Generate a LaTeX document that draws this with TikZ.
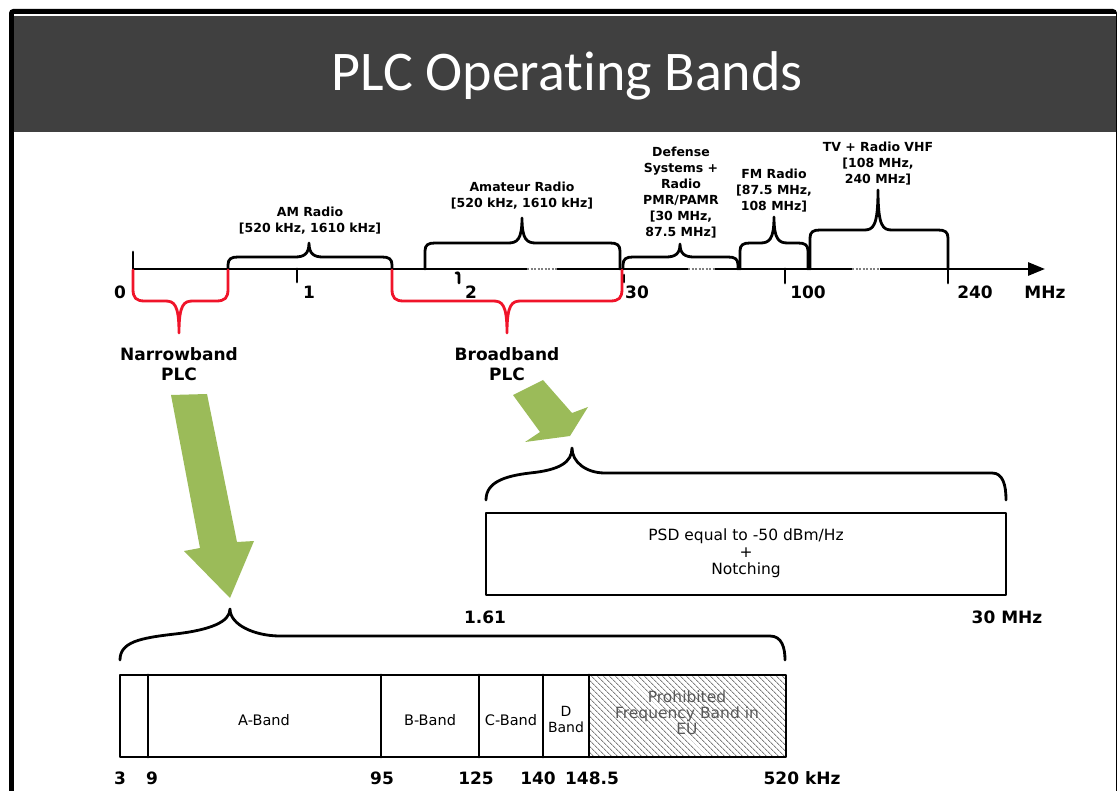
\documentclass[tikz,border=0pt]{standalone}
\usepackage{fontspec}
\setmainfont{DejaVu Sans}
\newfontfamily\titlefont[Ligatures=NoCommon]{Carlito}
\usetikzlibrary{arrows.meta,patterns.meta}
\definecolor{hdr}{HTML}{404040}
\definecolor{plcgreen}{HTML}{9BBB59}
\definecolor{plcred}{HTML}{F0142A}
\newcommand\BrUp[7]{%
 \draw[#7] (#1,#4) -- (#1,#5+8) .. controls (#1,#5+2) and (#1+3,#5) .. (#1+10,#5)
 -- (#3-14,#5) .. controls (#3-5,#5) and (#3,#5-3) .. (#3,#6)
 .. controls (#3,#5-3) and (#3+5,#5) .. (#3+14,#5)
 -- (#2-10,#5) .. controls (#2-3,#5) and (#2,#5+2) .. (#2,#5+8) -- (#2,#4);}
\newcommand\BrDown[7]{%
 \draw[#7] (#1,#4) -- (#1,#5-12) .. controls (#1,#5-3) and (#1+3,#5) .. (#1+12,#5)
 -- (#3-14,#5) .. controls (#3-5,#5) and (#3,#5+3) .. (#3,#6)
 .. controls (#3,#5+3) and (#3+5,#5) .. (#3+14,#5)
 -- (#2-12,#5) .. controls (#2-3,#5) and (#2,#5-3) .. (#2,#5-12) -- (#2,#4);}
\tikzset{
 ln/.style={line width=2.8pt, line cap=round, line join=round},
 blab/.style={font=\bfseries\fontsize{12.5}{16}\selectfont, align=center, inner sep=0pt},
 axlab/.style={font=\bfseries\fontsize{17}{20}\selectfont, align=center, inner sep=0pt},
 boxlab/.style={font=\fontsize{14.5}{17}\selectfont, align=center, inner sep=0pt},
 gap/.style={white, line width=4.4pt},
 dots/.style={gray, line width=1.5pt, dash pattern=on 2pt off 1.5pt},
}
\begin{document}
\begin{tikzpicture}[x=1pt,y=-1pt]
\useasboundingbox (0,0) rectangle (1117,791);
\fill[white] (0,0) rectangle (1117,791);
% frame and header
\fill[black, rounded corners=4pt] (9,9) rectangle (1117,800);
\fill[white] (14,14) rectangle (1115.5,800);
\fill[hdr] (14,16) rectangle (1115.5,132);
\node[text=white, font=\titlefont\fontsize{56}{60}\selectfont, inner sep=0pt] (title) at (567,76) {PLC Operat\kern0pt{}ing Bands};

% axis
\draw[ln, line cap=butt, -{Triangle[length=17pt,width=13pt]}] (133,269) -- (1045,269);
\draw[gap] (527,269) -- (557,269); \draw[dots] (527,269) -- (557,269);
\draw[gap] (688,269) -- (715,269); \draw[dots] (688,269) -- (715,269);
\draw[gap] (852,269) -- (880,269); \draw[dots] (852,269) -- (880,269);
\draw[ln] (133,252) -- (133,269);
\draw[ln] (297,269) -- (297,282);
\draw[ln] (456,273) .. controls (458,272) and (459,273) .. (459,275) -- (459,283);
\draw[ln] (624,275) -- (624,282);
\draw[ln] (785,269) -- (785,283);
\draw[ln] (948,269) -- (948,283);

% axis labels
\node[axlab] (l0) at (120,292) {0};
\node[axlab] (l1) at (309,292) {1};
\node[axlab] (l2) at (471,292) {2};
\node[axlab] (l30) at (637,292) {30};
\node[axlab] (l100) at (808,292) {100};
\node[axlab] (l240) at (975,292) {240};
\node[axlab] (lmhz) at (1045,292) {MHz};

% upper braces
\BrUp{228}{392}{309}{269}{257}{243}{ln}
\BrUp{425}{620}{522}{269}{243}{218}{ln}
\BrUp{623}{738}{680}{269}{257}{244}{ln}
\BrUp{740}{808}{774}{269}{243}{217}{ln}
\BrUp{810}{948}{878}{269}{230}{190}{ln}
\node[blab] (am) at (310,221) {AM Radio\\{}[520 kHz, 1610 kHz]};
\node[blab] (ham) at (522,196) {Amateur Radio\\{}[520 kHz, 1610 kHz]};
\node[blab] (def) at (681,193) {Defense\\Systems +\\Radio\\PMR/PAMR\\{}[30 MHz,\\87.5 MHz]};
\node[blab] (fm) at (774,191) {FM Radio\\{}[87.5 MHz,\\108 MHz]};
\node[blab] (tv) at (878,164) {TV + Radio VHF\\{}[108 MHz,\\240 MHz]};

% red braces
\BrDown{133}{228}{179}{270}{301}{333}{ln, plcred}
\BrDown{392}{622}{507}{270}{301}{333}{ln, plcred}
\node[axlab] (nb) at (179,364) {Narrowband\\PLC};
\node[axlab] (bb) at (507,364) {Broadband\\PLC};

% green arrows
\fill[plcgreen] (171,395) -- (207,394) -- (237,542) -- (254,541) -- (230,598) -- (184,551) -- (200,548) -- cycle;
\fill[plcgreen] (513,395) -- (543,380) -- (572,413) -- (588,407) -- (570,436) -- (525,442) -- (540,432) -- cycle;

% broadband detail
\draw[ln] (486,500) .. controls (486,482) and (505,476) .. (530,473)
 .. controls (560,470) and (572,462) .. (572,448)
 .. controls (572,462) and (586,473) .. (605,473)
 -- (992,473) .. controls (1003,473) and (1006,485) .. (1006,500);
\draw[ln] (486,513) rectangle (1006,595);
\node[boxlab, font=\fontsize{15.5}{17}\selectfont] (psd) at (746,553) {PSD equal to -50 dBm/Hz\\+\\Notching};
\node[axlab] (f161) at (485,617) {1.61};
\node[axlab] (f30) at (1007,617) {30 MHz};

% narrowband detail
\draw[ln] (120,660) .. controls (120,642) and (140,638) .. (175,634)
 .. controls (210,630) and (230,622) .. (230,609)
 .. controls (230,625) and (255,636) .. (280,636)
 -- (770,636) .. controls (782,636) and (785,648) .. (785,660);
\fill[pattern={Lines[angle=-45,distance=4pt,line width=0.9pt]}, pattern color=gray] (589,675) rectangle (786,757);
\draw[ln] (120,675) rectangle (786,757);
\foreach \x in {148,381,479,543,589} \draw[ln] (\x,675) -- (\x,757);
\node[boxlab] (ab) at (264,720) {A-Band};
\node[boxlab] (bband) at (430,720) {B-Band};
\node[boxlab] (cb) at (511,720) {C-Band};
\node[boxlab, font=\fontsize{14}{16}\selectfont] (db) at (566,719) {D\\Band};
\node[boxlab, text=gray!70!black, font=\fontsize{15.5}{16}\selectfont] (pro) at (687,713) {Prohibited\\Frequency Band in\\EU};
\node[axlab] (k3) at (120,778) {3};
\node[axlab] (k9) at (152,778) {9};
\node[axlab] (k95) at (382,778) {95};
\node[axlab] (k125) at (476,778) {125};
\node[axlab] (k140) at (538,778) {140};
\node[axlab] (k148) at (592,778) {148.5};
\node[axlab] (k520) at (802,778) {520 kHz};
\end{tikzpicture}
\end{document}
